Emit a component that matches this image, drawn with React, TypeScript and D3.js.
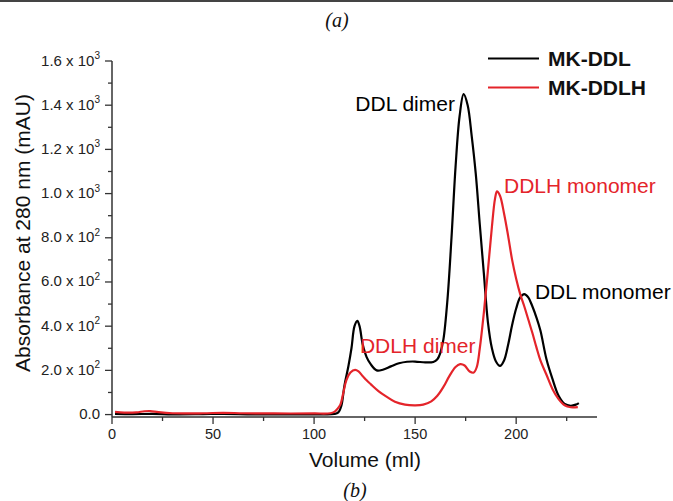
import * as d3 from "d3";

// MK-DDL trace (black)
const ddlVolume = [1.5, 10, 20, 30, 45, 55, 70, 90, 105, 110, 112, 113.5, 115, 117, 118.5, 120, 121.4, 122.5, 124, 126, 128, 131, 134, 138, 142, 146, 150, 155, 159, 161, 162.5, 164, 166, 168, 170, 172, 174, 176, 178, 180, 182, 184, 186, 188, 190, 192, 194, 196, 198, 200, 202, 204, 206, 208, 210, 212, 215, 218, 221, 224, 227, 229.5, 231];
const ddlAbs = [3, 2, 3, 1, 2, 3, 1, 1, 1, 3, 10, 40, 130, 220, 300, 400, 424, 400, 320, 260, 228, 200, 203, 218, 232, 239, 240, 236, 238, 250, 280, 340, 520, 800, 1120, 1350, 1450, 1400, 1260, 1090, 860, 640, 420, 300, 240, 220, 245, 315, 405, 480, 530, 545, 530, 490, 440, 380, 250, 160, 85, 48, 40, 45, 52];

// MK-DDLH trace (red)
const ddlhVolume = [1.5, 6, 12, 16, 19, 23, 30, 45, 55, 65, 80, 100, 108, 110, 111.5, 113, 114.5, 116, 118, 120.3, 122, 124, 126, 128, 132, 136, 140, 145, 150, 154, 158, 161, 164, 167, 170, 172.3, 174.5, 177, 179, 180.5, 182, 184, 186, 188, 189.5, 190.5, 192, 194, 196, 198, 200, 202, 204, 206, 208, 210, 212, 215, 218, 221, 224, 227, 230.5];
const ddlhAbs = [12, 9, 10, 15, 16, 11, 6, 6, 8, 6, 5, 5, 6, 12, 25, 45, 100, 156, 190, 202, 195, 175, 155, 138, 105, 80, 58, 45, 42, 45, 60, 85, 125, 175, 215, 228, 222, 195, 190, 215, 300, 460, 650, 850, 975, 1010, 990, 910, 810, 700, 615, 545, 490, 430, 370, 305, 245, 180, 115, 70, 42, 33, 34];

const xMajor = [0, 50, 100, 150, 200];
const xMinor = [25, 75, 125, 175, 225];
const yMajor = [0, 200, 400, 600, 800, 1000, 1200, 1400, 1600];
const yMinor = [100, 300, 500, 700, 900, 1100, 1300, 1500];
const yMantissa = ["0.0", "2.0", "4.0", "6.0", "8.0", "1.0", "1.2", "1.4", "1.6"];
const yExponent = ["", "2", "2", "2", "2", "3", "3", "3", "3"];

const legendNames = ["MK-DDL", "MK-DDLH"];
const seriesColors = ["#000000", "#e4242a"];

// peak labels, placed in data units
const peakText = ["DDL dimer", "DDLH monomer", "DDL monomer", "DDLH dimer"];
const peakX = [169.7, 194, 209.3, 122.7];
const peakY = [1374, 1003, 525, 279];
const peakAnchor = ["end", "start", "start", "start"];
const peakSeries = [0, 1, 0, 1];

const font = "'Liberation Sans', Arial, sans-serif";
const serif = "'Liberation Serif', 'Times New Roman', serif";

export default function App() {
  const width = 673;
  const height = 501;

  const x = d3.scaleLinear([0, 240], [112, 597]);
  const y = d3.scaleLinear([-11, 1600], [417, 61]);

  const makeLine = (vols: number[]) =>
    d3
      .line<number>()
      .x((_, i) => x(vols[i]))
      .y((d) => y(d))
      .curve(d3.curveCatmullRom.alpha(0.5));

  const ddlPath = makeLine(ddlVolume)(ddlAbs);
  const ddlhPath = makeLine(ddlhVolume)(ddlhAbs);

  const axisColor = "#333";
  const x0 = x.range()[0];
  const yBase = y.range()[0];

  return (
    <svg
      width={width}
      height={height}
      style={{ position: "absolute", left: 0, top: 0, background: "#fff" }}
    >
      <line x1={0} x2={width} y1={1} y2={1} stroke="#444" strokeWidth={2} />
      <text x={337} y={27} textAnchor="middle" fontFamily={serif} fontStyle="italic" fontSize={20} fill="#111">
        (a)
      </text>

      {/* axes */}
      <line x1={x0} x2={x0} y1={y.range()[1]} y2={yBase} stroke={axisColor} strokeWidth={1.5} />
      <line x1={x0} x2={x.range()[1]} y1={yBase} y2={yBase} stroke={axisColor} strokeWidth={1.5} />

      {yMajor.map((v, i) => (
        <g key={"ym" + v}>
          <line x1={x0 - 7} x2={x0} y1={y(v)} y2={y(v)} stroke={axisColor} strokeWidth={1.3} />
          <text x={100} y={y(v) + 4.5} textAnchor="end" fontFamily={font} fontSize={15} fill="#222">
            {yExponent[i] ? (
              <>
                {yMantissa[i] + " x 10"}
                <tspan fontSize={10} dy={-6.5}>
                  {yExponent[i]}
                </tspan>
              </>
            ) : (
              yMantissa[i]
            )}
          </text>
        </g>
      ))}
      {yMinor.map((v) => (
        <line key={"yn" + v} x1={x0 - 4} x2={x0} y1={y(v)} y2={y(v)} stroke={axisColor} strokeWidth={1.3} />
      ))}

      {xMajor.map((v) => (
        <g key={"xm" + v}>
          <line x1={x(v)} x2={x(v)} y1={yBase} y2={yBase + 7} stroke={axisColor} strokeWidth={1.3} />
          <text x={x(v)} y={439} textAnchor="middle" fontFamily={font} fontSize={14.5} fill="#222">
            {v}
          </text>
        </g>
      ))}
      {xMinor.map((v) => (
        <line key={"xn" + v} x1={x(v)} x2={x(v)} y1={yBase} y2={yBase + 4} stroke={axisColor} strokeWidth={1.3} />
      ))}

      {/* axis titles */}
      <text x={365} y={467} textAnchor="middle" fontFamily={font} fontSize={21} fill="#111">
        Volume (ml)
      </text>
      <text
        transform={`translate(30, 233) rotate(-90)`}
        textAnchor="middle"
        fontFamily={font}
        fontSize={21}
        fill="#111"
      >
        Absorbance at 280 nm (mAU)
      </text>

      {/* traces */}
      <path d={ddlPath ?? ""} fill="none" stroke={seriesColors[0]} strokeWidth={2.2} />
      <path d={ddlhPath ?? ""} fill="none" stroke={seriesColors[1]} strokeWidth={2.2} />

      {/* peak labels */}
      {peakText.map((t, i) => (
        <text
          key={t}
          x={x(peakX[i])}
          y={y(peakY[i])}
          textAnchor={peakAnchor[i]}
          fontFamily={font}
          fontSize={21}
          fill={seriesColors[peakSeries[i]]}
        >
          {t}
        </text>
      ))}

      {/* legend */}
      {legendNames.map((name, i) => (
        <g key={name} transform={`translate(488, ${58.5 + i * 29})`}>
          <line x1={0} x2={51} y1={0} y2={0} stroke={seriesColors[i]} strokeWidth={2.2} />
          <text x={60} y={7.5} fontFamily={font} fontWeight="bold" fontSize={21} fill="#111">
            {name}
          </text>
        </g>
      ))}

      <text x={355} y={497} textAnchor="middle" fontFamily={serif} fontStyle="italic" fontSize={20} fill="#111">
        (b)
      </text>
    </svg>
  );
}
